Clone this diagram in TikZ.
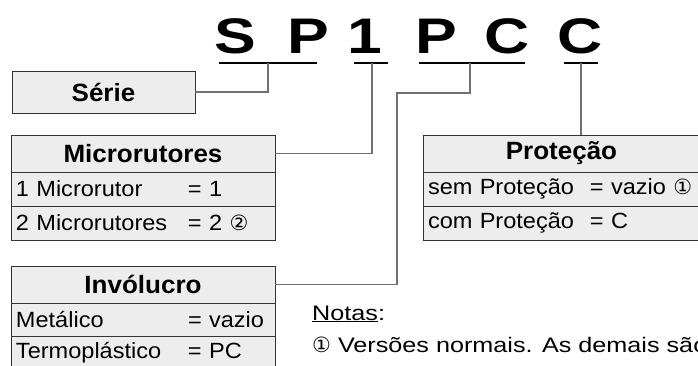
\documentclass[tikz,border=0pt]{standalone}
\usepackage{fontspec}
\setmainfont{Liberation Sans}
\newfontfamily\codefont[FakeStretch=1.25]{Liberation Sans}
\newfontfamily\headfont[FakeStretch=1.04]{Liberation Sans}
\newfontfamily\rowfont[FakeStretch=1.07]{Liberation Sans}
\newfontfamily\notefont[FakeStretch=1.2]{Liberation Sans}
\newfontfamily\circfont{DejaVu Sans}
\usepackage{xcolor}
\usetikzlibrary{positioning}
\definecolor{boxfill}{HTML}{EDEDED}
\definecolor{boxline}{HTML}{333333}
\definecolor{connline}{HTML}{707070}
\newcommand{\circnum}[1]{{\circfont\fontsize{21}{24}\selectfont #1}}
\newcommand{\optrow}[3]{\makebox[#1][l]{#2}#3}
\tikzset{
  cell/.style={draw=boxline, fill=boxfill, line width=0.9pt, anchor=north west, inner sep=0pt, outer sep=0pt},
  head/.style={cell, minimum height=37pt, font=\headfont\fontsize{25}{29}\selectfont\bfseries},
  opt/.style={cell, minimum height=34pt, inner xsep=5pt, align=left, text width=#1, font=\rowfont\fontsize{22}{26}\selectfont},
  code/.style={anchor=base, inner sep=0pt, font=\codefont\fontsize{50}{56}\selectfont\bfseries},
  conn/.style={draw=connline, line width=1.2pt},
  uline/.style={line width=1.1pt}
}

\begin{document}
\begin{tikzpicture}[x=1pt,y=-1pt]
\clip (0,0) rectangle (698,365);
\node[code] (cS) at (235,53) {S};
\node[code] (cP) at (308,53) {P};
\node[code] (c1) at (365,53) {1};
\node[code] (cP2) at (436,53) {P};
\node[code] (cC) at (507,53) {C};
\node[code] (cC2) at (580,53) {C};
\draw[uline] (219,63) -- (317,63);
\draw[uline] (354,63) -- (388,63);
\draw[uline] (419,63) -- (525,63);
\draw[uline] (564,63) -- (598,63);
\coordinate (ulS) at (268,63);
\coordinate (ul1) at (372,63);
\coordinate (ulPC) at (470,63);
\coordinate (ulC) at (581,63);
\coordinate (bendPC) at (397,93);

\node[head, minimum width=183pt, minimum height=42pt] (serie) at (12,71) {Série};

\node[head, minimum width=264pt] (micro) at (11,135) {Microrutores};
\node[opt=254pt] (micro1) at (micro.south west) {\optrow{172pt}{1 Microrutor}{= 1}};
\node[opt=254pt] (micro2) at (micro1.south west) {\optrow{172pt}{2 Microrutores}{= 2 \circnum{②}}};

\node[head, minimum width=277pt] (prot) at (423,135) {Proteção};
\node[opt=267pt] (prot1) at (prot.south west) {\optrow{162pt}{sem Proteção}{= vazio \circnum{①}}};
\node[opt=267pt] (prot2) at (prot1.south west) {\optrow{162pt}{com Proteção}{= C}};

\node[head, minimum width=264pt] (invol) at (11,266) {Invólucro};
\node[opt=254pt, minimum height=33pt] (invol1) at (invol.south west) {\optrow{172pt}{Metálico}{= vazio}};
\node[opt=254pt] (invol2) at (invol1.south west) {\optrow{172pt}{Termoplástico}{= PC}};

\draw[conn] (serie.east) -| (ulS);
\draw[conn] (micro.east) -| (ul1);
\draw[conn] (invol.east) -| (bendPC) -| (ulPC);
\draw[conn] (ulC) -- (ulC |- prot.north);

\node[anchor=base west, inner sep=0pt, font=\notefont\fontsize{21}{25}\selectfont] (notas) at (312,320) {\underline{Notas}:};
\node[anchor=base west, inner sep=0pt, font=\notefont\fontsize{21}{25}\selectfont] (nota1) at (312,352) {\circnum{①} Versões normais. As demais são};
\end{tikzpicture}
\end{document}
